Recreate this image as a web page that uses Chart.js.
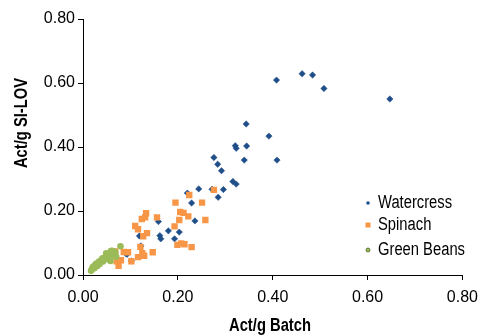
<!DOCTYPE html>
<html>
<head>
<meta charset="utf-8">
<script src="https://cdn.jsdelivr.net/npm/chart.js@4.4.0/dist/chart.umd.min.js"></script>
<style>
  html, body { margin: 0; padding: 0; background: #fff; }
  #wrap { position: relative; width: 486px; height: 336px; }
</style>
</head>
<body>
<div id="wrap"><canvas id="scatterChart" width="486" height="336"></canvas></div>
<script>
// Act/g Batch vs Act/g SI-LOV

var seriesNames = ['Watercress', 'Spinach', 'Green Beans'];
var seriesColors = ['#1f4e89', '#f79646', '#9bbb59'];
var tickValues = [0, 0.2, 0.4, 0.6, 0.8];

var watercressX = [0.408, 0.462, 0.484, 0.508, 0.647, 0.392, 0.409, 0.344, 0.321, 0.323, 0.345, 0.340, 0.284, 0.292,
    0.316, 0.323, 0.296, 0.285, 0.276, 0.244, 0.272, 0.220, 0.229, 0.159, 0.236, 0.180, 0.203, 0.119, 0.162, 0.164,
    0.193, 0.122, 0.091, 0.102, 0.063, 0.093];
var watercressY = [0.609, 0.629, 0.625, 0.583, 0.550, 0.434, 0.359, 0.472, 0.404, 0.396, 0.403, 0.359, 0.346, 0.326,
    0.292, 0.284, 0.267, 0.243, 0.367, 0.269, 0.268, 0.256, 0.225, 0.167, 0.169, 0.138, 0.134, 0.122, 0.123, 0.113,
    0.113, 0.091, 0.066, 0.044, 0.067, 0.065];

var spinachX = [0.224, 0.195, 0.251, 0.276, 0.133, 0.124, 0.131, 0.156, 0.205, 0.212, 0.222, 0.203, 0.258, 0.110,
    0.116, 0.193, 0.135, 0.127, 0.199, 0.207, 0.214, 0.229, 0.121, 0.147, 0.125, 0.129, 0.116, 0.086, 0.095, 0.102,
    0.080, 0.071, 0.075, 0.068];
var spinachY = [0.250, 0.226, 0.226, 0.266, 0.193, 0.175, 0.180, 0.180, 0.197, 0.194, 0.183, 0.172, 0.172, 0.153,
    0.143, 0.152, 0.131, 0.121, 0.094, 0.099, 0.096, 0.087, 0.088, 0.071, 0.068, 0.060, 0.056, 0.072, 0.071, 0.043,
    0.046, 0.043, 0.029, 0.074];

var beansX = [0.079, 0.061, 0.066, 0.049, 0.070, 0.057, 0.058, 0.046, 0.039, 0.034, 0.028, 0.025, 0.021, 0.019,
    0.017, 0.042, 0.035, 0.030, 0.024, 0.052, 0.041, 0.059, 0.068, 0.056, 0.049];
var beansY = [0.090, 0.076, 0.073, 0.068, 0.057, 0.059, 0.044, 0.052, 0.047, 0.042, 0.036, 0.030, 0.026, 0.019,
    0.013, 0.042, 0.034, 0.028, 0.021, 0.049, 0.052, 0.075, 0.071, 0.052, 0.065];

var FONT = '"Liberation Sans", Arial, sans-serif';
var NARROW = 0.82; // the original used a narrow face, squeeze the wide one

function toPoints(xs, ys) {
    return xs.map(function (x, i) { return { x: x, y: ys[i] }; });
}

function narrowText(ctx, text, x, y) {
    ctx.save();
    ctx.translate(x, y);
    ctx.scale(NARROW, 1);
    ctx.fillText(text, 0, 0);
    ctx.restore();
}

// legend and axis titles drawn in the plot like the original
var overlayPlugin = {
    id: 'overlay',
    afterDraw: function (chart) {
        var ctx = chart.ctx;
        ctx.save();
        ctx.fillStyle = '#000';
        ctx.font = 'bold 18px ' + FONT;
        ctx.textAlign = 'center';
        ctx.textBaseline = 'middle';
        narrowText(ctx, 'Act/g Batch', 270, 326);
        ctx.translate(22, 123);
        ctx.rotate(-Math.PI / 2);
        narrowText(ctx, 'Act/g SI-LOV', 0, 0);
        ctx.restore();

        ctx.save();
        var rows = [203, 225, 250];
        ctx.font = '18px ' + FONT;
        ctx.textBaseline = 'middle';
        ctx.textAlign = 'left';
        rows.forEach(function (y, i) {
            ctx.fillStyle = seriesColors[i];
            if (i === 0) {
                ctx.beginPath();
                ctx.arc(368, y, 1.8, 0, Math.PI * 2);
                ctx.fill();
            } else if (i === 1) {
                ctx.fillRect(365.5, y - 2.5, 5, 5);
            } else {
                ctx.beginPath();
                ctx.arc(368, y, 2, 0, Math.PI * 2);
                ctx.fill();
                ctx.strokeStyle = '#4f6228';
                ctx.lineWidth = 0.8;
                ctx.stroke();
            }
            ctx.fillStyle = '#000';
            narrowText(ctx, seriesNames[i], 378, y);
        });
        ctx.restore();
    }
};

function axisOptions(fitSize, isX) {
    return {
        type: 'linear',
        min: 0,
        max: 0.8,
        afterBuildTicks: function (scale) {
            scale.ticks = tickValues.map(function (v) { return { value: v }; });
        },
        afterFit: function (scale) {
            if (isX) scale.height = fitSize; else scale.width = fitSize;
        },
        grid: {
            drawOnChartArea: false,
            drawTicks: true,
            tickLength: 5,
            color: '#000'
        },
        border: { display: true, color: '#000', width: 1 },
        ticks: {
            color: '#000',
            padding: isX ? 8 : 3,
            font: { family: FONT, size: 16 },
            callback: function (v) { return Number(v).toFixed(2); }
        },
        title: { display: false }
    };
}

function initScatterChart() {
    var ctx = document.getElementById('scatterChart').getContext('2d');
    return new Chart(ctx, {
        type: 'scatter',
        data: {
            datasets: [{
                label: seriesNames[0],
                data: toPoints(watercressX, watercressY),
                pointStyle: 'rectRot',
                pointRadius: 3.2,
                backgroundColor: seriesColors[0],
                borderColor: seriesColors[0],
                borderWidth: 0.5,
                order: 3
            }, {
                label: seriesNames[1],
                data: toPoints(spinachX, spinachY),
                pointStyle: 'rect',
                pointRadius: 4.5,
                backgroundColor: seriesColors[1],
                borderColor: seriesColors[1],
                borderWidth: 0,
                order: 2
            }, {
                label: seriesNames[2],
                data: toPoints(beansX, beansY),
                pointStyle: 'circle',
                pointRadius: 3.3,
                backgroundColor: seriesColors[2],
                borderColor: seriesColors[2],
                borderWidth: 0,
                order: 1
            }]
        },
        options: {
            responsive: false,
            animation: false,
            layout: { padding: { top: 19, right: 17, left: 0, bottom: 0 } },
            plugins: {
                legend: { display: false },
                tooltip: { enabled: false }
            },
            scales: {
                x: axisOptions(61, true),
                y: axisOptions(83, false)
            }
        },
        plugins: [overlayPlugin]
    });
}

initScatterChart();
</script>
</body>
</html>
